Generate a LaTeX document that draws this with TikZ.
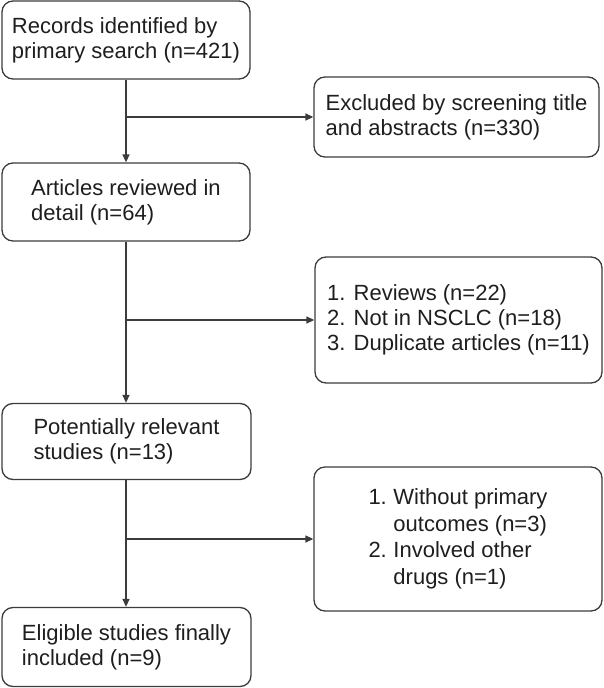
\documentclass[tikz,border=0pt]{standalone}
\usepackage{fontspec}
\setmainfont{Liberation Sans}
\usetikzlibrary{arrows.meta}
\definecolor{linec}{HTML}{3C3C3C}
\definecolor{textc}{HTML}{1E1E1E}
\begin{document}
\begin{tikzpicture}[x=1pt,y=-1pt,
  box/.style={draw=linec, line width=1.3pt, rounded corners=11pt, align=left,
    font=\fontsize{22}{25}\selectfont, text=textc, inner sep=0pt},
  arr/.style={draw=linec, line width=1.3pt, -{Triangle[length=8pt,width=7pt]}}]
\useasboundingbox (0,0) rectangle (604,688);
\node[box, minimum width=248pt, minimum height=78pt] (n1) at (126,40)
  {Records identified by\\primary search (n=421)};
\node[box, minimum width=285pt, minimum height=80pt] (n2) at (456.5,117)
  {Excluded by screening title\\and abstracts (n=330)};
\node[box, minimum width=248pt, minimum height=78pt] (n3) at (126,202)
  {Articles reviewed in\\detail (n=64)};
\node[box, minimum width=287pt, minimum height=126pt] (n4) at (458.5,320)
  {1. Reviews (n=22)\\2. Not in NSCLC (n=18)\\3. Duplicate articles (n=11)};
\node[box, minimum width=249pt, minimum height=76pt] (n5) at (126.5,441.5)
  {Potentially relevant\\studies (n=13)};
\node[box, minimum width=288pt, minimum height=144pt] (n6) at (458,539)
  {\renewcommand{\arraystretch}{1.06}\begin{tabular}{@{}l@{\hspace{0.3em}}l@{}}1. & Without primary\\ & outcomes (n=3)\\2. & Involved other\\ & drugs (n=1)\end{tabular}};
\node[box, minimum width=249pt, minimum height=79pt] (n7) at (126.5,647)
  {Eligible studies finally\\included (n=9)};
\coordinate (b1) at (126,117);
\coordinate (b2) at (126,320);
\coordinate (b3) at (126,539);
\draw[arr] (n1.south) -- (n3.north);
\draw[arr] (b1) -- (n2.west);
\draw[arr] (n3.south) -- (n5.north -| n3.south);
\draw[arr] (b2) -- (n4.west);
\draw[arr] (n5.south -| n3.south) -- (n7.north -| n3.south);
\draw[arr] (b3) -- (n6.west);
\end{tikzpicture}
\end{document}
